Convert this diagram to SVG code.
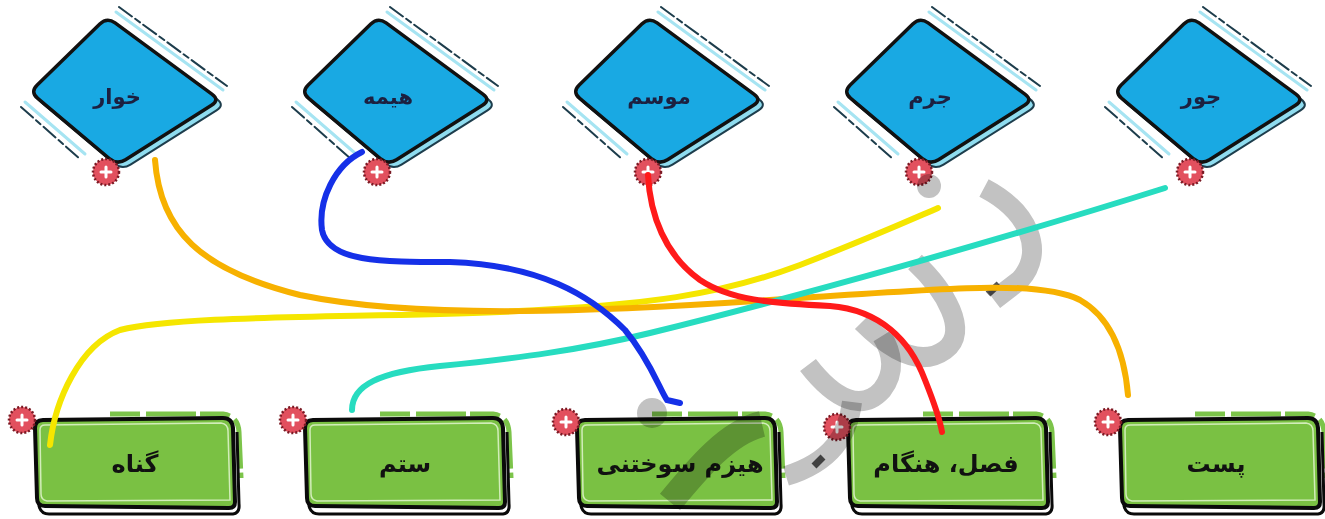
<svg xmlns="http://www.w3.org/2000/svg" width="1325" height="519" viewBox="0 0 1325 519">
<style>
.dia{fill:#19a9e3;stroke:#111;stroke-width:3.5;stroke-linejoin:round}
.dbk{fill:#8fdcef;stroke:#1d3d4c;stroke-width:2;stroke-linejoin:round}
.dsh{fill:none;stroke:#a6e4f2;stroke-width:3;stroke-linecap:round}
.dsd{fill:none;stroke:#1d3d4c;stroke-width:2;stroke-dasharray:16 4 6 4;stroke-linecap:round}
.dt{font-family:"DejaVu Sans",sans-serif;font-weight:bold;font-size:21px;fill:#1c2040;text-anchor:middle}
.box{fill:#7ac143;stroke:#0a0a0a;stroke-width:4;stroke-linejoin:round}
.bsh{fill:none;stroke:#0a0a0a;stroke-width:3}
.bhl{fill:none;stroke:#e9f7d8;stroke-width:1.5;opacity:.8}
.bgl{fill:none;stroke:#7cc44a;stroke-width:5;stroke-dasharray:30 6 50 4}
.bt{font-family:"DejaVu Sans",sans-serif;font-weight:bold;font-size:24px;fill:#111;text-anchor:middle}
.dot{fill:#e2505e;stroke:#7a1a24;stroke-width:2.5;stroke-dasharray:2 2}
.plus{stroke:#fff;stroke-width:3;stroke-linecap:round}
.ln{fill:none;stroke-linecap:round;stroke-width:6}
.wm{fill:none;stroke:#c2c2c2;stroke-width:20;mix-blend-mode:multiply}
</style>
<defs>
<path id="dpath" d="M7.2,-7 L69.8,-68 Q77,-75 85.1,-69.1 L181.9,2.1 Q190,8 181.5,13.3 L95.5,67.7 Q87,73 79.3,66.6 L7.7,6.4 Q0,0 7.2,-7 Z"/>
<g id="diamond">
<path class="dsh" d="M86,-80 L193,-2"/>
<path class="dsd" d="M89,-85 L197,-6"/>
<path class="dsh" d="M-5,10 L55,62"/>
<path class="dsd" d="M-9,15 L50,67"/>
<use href="#dpath" class="dbk" transform="translate(5,5)"/>
<use href="#dpath" class="dia"/>
</g>
<g id="dotm">
<circle class="dot" r="13"/>
<path class="plus" d="M-5,0 H5 M0,-5 V5"/>
</g>
<g id="boxm">
<path class="bgl" d="M75,-4 L188,-4 Q203,-2 204,14 L206,60"/>
<path class="bsh" d="M8,8 L4,88 Q6,96 14,96 L198,96 Q205,95 204,86 L202,14"/>
<path class="box" d="M8,2 L188,0 Q197,0 198,10 L200,84 Q200,90 194,90 L10,88 Q2,88 2,80 L0,10 Q0,2 8,2 Z"/>
<path class="bhl" d="M10,7 L186,5 Q193,6 193,13 L195,82 L12,83 Q6,82 6,76 L5,12 Q5,7 10,7 Z"/>
</g>
</defs>

<g id="n-khar" transform="translate(30,92)"><use href="#diamond"/><text class="dt" x="87" y="12">خوار</text><use href="#dotm" x="76" y="80"/></g>
<g id="n-hime" transform="translate(301,92)"><use href="#diamond"/><text class="dt" x="87" y="12">هیمه</text><use href="#dotm" x="76" y="80"/></g>
<g id="n-mowsem" transform="translate(572,92)"><use href="#diamond"/><text class="dt" x="87" y="12">موسم</text><use href="#dotm" x="76" y="80"/></g>
<g id="n-jorm" transform="translate(843,92)"><use href="#diamond"/><text class="dt" x="87" y="12">جرم</text><use href="#dotm" x="76" y="80"/></g>
<g id="n-jowr" transform="translate(1114,92)"><use href="#diamond"/><text class="dt" x="87" y="12">جور</text><use href="#dotm" x="76" y="80"/></g>

<g id="b-gonah" transform="translate(35,418)"><use href="#boxm"/><text class="bt" x="100" y="54">گناه</text><use href="#dotm" x="-13" y="2"/></g>
<g id="b-setam" transform="translate(305,418)"><use href="#boxm"/><text class="bt" x="100" y="54">ستم</text><use href="#dotm" x="-12" y="2"/></g>
<g id="b-hizom" transform="translate(577,418)"><use href="#boxm"/><text class="bt" x="103" y="54">هیزم سوختنی</text><use href="#dotm" x="-11" y="4"/></g>
<g id="b-fasl" transform="translate(848,418)"><use href="#boxm"/><text class="bt" x="98" y="54">فصل، هنگام</text><use href="#dotm" x="-11" y="9"/></g>
<g id="b-past" transform="translate(1120,418)"><use href="#boxm"/><text class="bt" x="96" y="54">پست</text><use href="#dotm" x="-12" y="4"/></g>

<g id="watermark">
<circle cx="929" cy="186" r="12" fill="#c2c2c2" style="mix-blend-mode:multiply"/>
<circle cx="652" cy="413" r="15" fill="#c2c2c2" style="mix-blend-mode:multiply"/>
<path class="wm" d="M984,188 C1030,212 1045,252 1020,280 L994,300"/>
<path class="wm" d="M915,262 C945,290 970,332 945,350 C920,368 890,350 862,322"/>
<path class="wm" d="M808,365 C835,400 862,412 882,390 C896,372 892,352 882,336"/>
<path class="wm" d="M852,402 C848,435 832,462 786,476"/>
<path class="wm" style="stroke-width:26" d="M762,424 C728,432 698,468 670,502"/>
<path d="M988,294 L999,284 M814,466 L823,457" stroke="#555" stroke-width="7" style="mix-blend-mode:multiply"/>
</g>

<g id="connectors">
<path class="ln" stroke="#f5e600" d="M50,445 C55,400 80,345 120,330 C180,315 350,318 500,312 C650,305 720,295 800,265 C870,238 910,220 938,208"/>
<path class="ln" stroke="#f7b100" stroke-width="8" d="M155,160 C160,230 200,270 300,295 C420,320 600,312 800,298 C950,288 1040,280 1080,300 C1115,320 1125,360 1128,395"/>
<path class="ln" stroke="#27dcc0" d="M352,410 C352,385 380,372 440,366 C520,358 580,350 650,333 C800,296 1000,240 1165,188"/>
<path class="ln" stroke="#1530e8" d="M362,152 C335,165 318,200 322,230 C328,262 380,262 450,262 C540,265 590,295 625,330 C650,360 660,390 667,400 L680,403"/>
<path class="ln" stroke="#ff1a1a" d="M648,175 C650,215 665,255 700,280 C730,300 770,303 830,306 C880,310 910,340 925,380 C935,405 940,420 942,432"/>
</g>
</svg>
